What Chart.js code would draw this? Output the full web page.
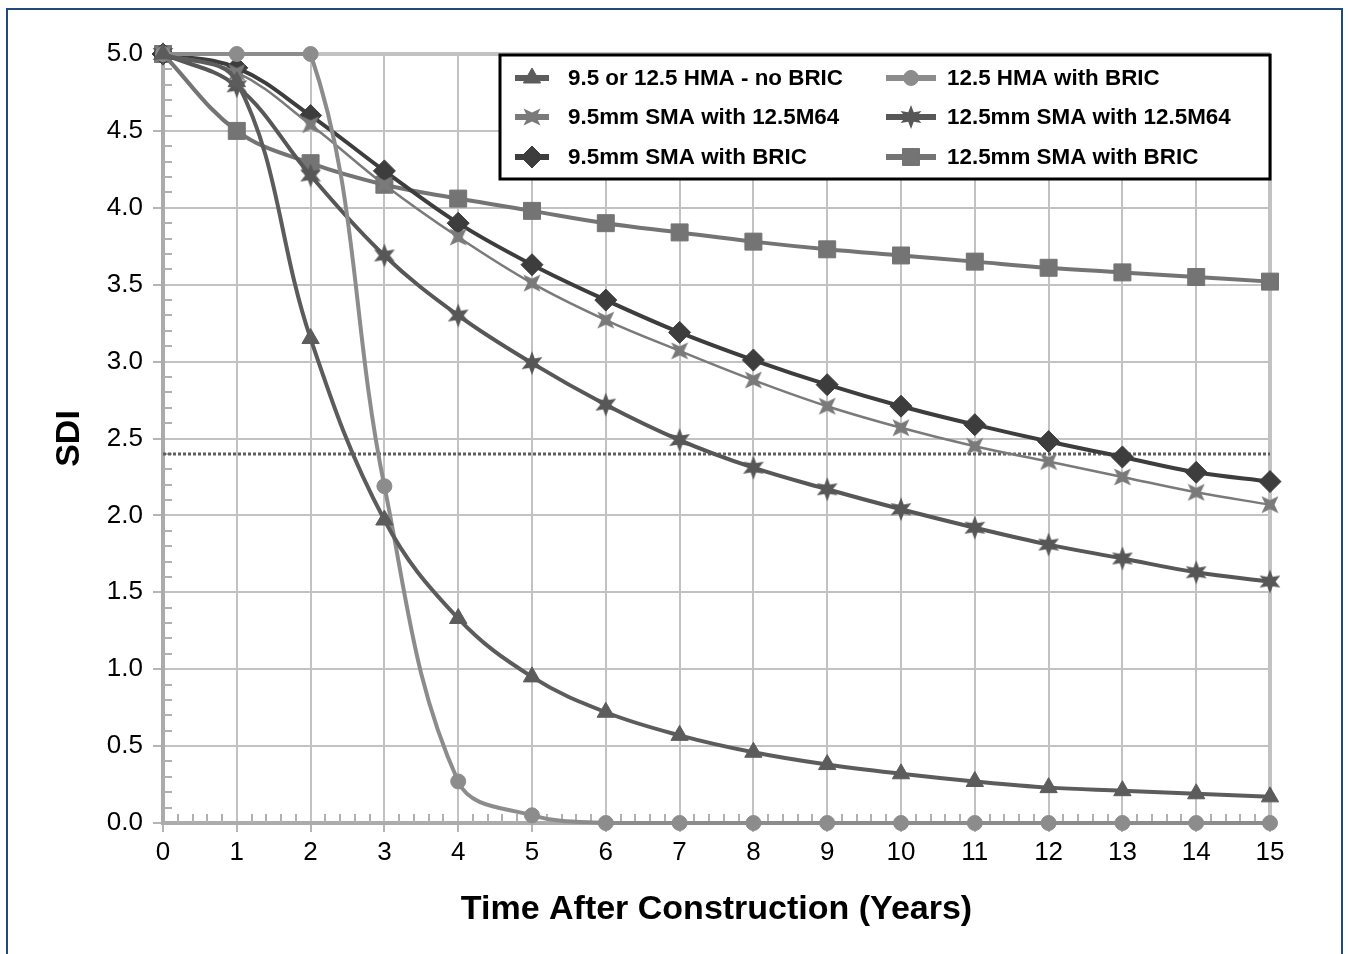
<!DOCTYPE html>
<html><head><meta charset="utf-8">
<script src="https://cdn.jsdelivr.net/npm/chart.js@4/dist/chart.umd.min.js"></script>
<style>
html,body{margin:0;padding:0;background:#fff;overflow:hidden;}
#wrap{position:relative;width:1349px;height:954px;}
#frame{position:absolute;left:6px;top:8px;width:1337px;height:970px;border:2px solid #1f4a7c;border-bottom:none;box-sizing:border-box;pointer-events:none;}
canvas{position:absolute;left:0;top:0;}
</style></head><body>
<div id="wrap"><canvas id="c" width="1349" height="954"></canvas><div id="frame"></div></div>
<script>
// ---- data ----
const years = [0,1,2,3,4,5,6,7,8,9,10,11,12,13,14,15];
const hmaNoBric   = [5.0,4.82,3.15,1.97,1.33,0.95,0.72,0.57,0.46,0.38,0.32,0.27,0.23,0.21,0.19,0.17];
const hmaBric     = [5.0,5.0,5.0,2.19,0.27,0.05,0,0,0,0,0,0,0,0,0,0];
const sma95M64    = [5.0,4.88,4.54,4.15,3.81,3.51,3.27,3.07,2.88,2.71,2.57,2.45,2.35,2.25,2.15,2.07];
const sma125M64   = [5.0,4.79,4.21,3.69,3.30,2.99,2.72,2.49,2.31,2.17,2.04,1.92,1.81,1.72,1.63,1.57];
const sma95Bric   = [5.0,4.91,4.60,4.24,3.90,3.63,3.40,3.19,3.01,2.85,2.71,2.59,2.48,2.38,2.28,2.22];
const sma125Bric  = [5.0,4.50,4.29,4.15,4.06,3.98,3.90,3.84,3.78,3.73,3.69,3.65,3.61,3.58,3.55,3.52];
const thresholdSDI = 2.4;
const seriesNames = ['9.5 or 12.5 HMA - no BRIC','12.5 HMA with BRIC','9.5mm SMA with 12.5M64','12.5mm SMA with 12.5M64','9.5mm SMA with BRIC','12.5mm SMA with BRIC'];
const xTitle = 'Time After Construction (Years)';
const yTitle = 'SDI';

// ---- styles ----
function makeStar(n, rOut, rIn, color, rot){
  const s = Math.ceil(rOut*2+2);
  const c = document.createElement('canvas'); c.width = c.height = s;
  const g = c.getContext('2d'); g.fillStyle = color; g.beginPath();
  for (let i=0;i<2*n;i++){ const r = i%2 ? rIn : rOut; const a = rot + i*Math.PI/n;
    g.lineTo(s/2 + r*Math.sin(a), s/2 - r*Math.cos(a)); }
  g.closePath(); g.fill(); return c;
}
const pts = v => years.map((x,i)=>({x, y:v[i]}));
const mk = (label, values, color, style, radius, width) => ({
  label, data: pts(values), borderColor: color, backgroundColor: color,
  pointBackgroundColor: color, pointBorderColor: color, pointBorderWidth: 1,
  pointStyle: style, pointRadius: radius, pointHoverRadius: radius,
  borderWidth: width, tension: 0.38, cubicInterpolationMode: 'default', fill: false, clip: false
});
const datasets = [
  mk(seriesNames[0], hmaNoBric, '#5c5c5c', 'triangle', 10, 4),
  mk(seriesNames[1], hmaBric, '#8c8c8c', 'circle', 7.5, 4),
  mk(seriesNames[2], sma95M64, '#7a7a7a', makeStar(4, 12, 4.5, '#7a7a7a', Math.PI/4), 11, 2.5),
  mk(seriesNames[3], sma125M64, '#575757', makeStar(6, 12, 5.5, '#575757', 0), 11, 4),
  mk(seriesNames[4], sma95Bric, '#3d3d3d', 'rectRot', 11, 4),
  mk(seriesNames[5], sma125Bric, '#747474', 'rect', 12, 4),
];
datasets.push({
  label: 'threshold', inLegend: false,
  data: [{x: years[0], y: thresholdSDI}, {x: years[years.length-1], y: thresholdSDI}],
  borderColor: '#5e5e5e', borderWidth: 3, borderDash: [3,2], pointRadius: 0, fill: false, order: 10
});

const tickFont = {family: "'Liberation Sans',Arial,sans-serif", size: 26};
const titleFont = {family: "'Liberation Sans',Arial,sans-serif", size: 34, weight: 'bold'};
const gridCol = '#c2c2c2';

const minorTicks = {
  id: 'minorTicks',
  beforeDatasetsDraw(chart){
    const {ctx, chartArea: a, scales: {x, y}} = chart;
    ctx.save(); ctx.strokeStyle = '#b0b0b0'; ctx.lineWidth = 2; ctx.beginPath();
    for (let k = 1; k < 50; k++){ if (k % 5 === 0) continue;
      const py = Math.round(y.getPixelForValue(k/10));
      ctx.moveTo(a.left, py); ctx.lineTo(a.left + 9, py); }
    for (let k = 1; k < 75; k++){ if (k % 5 === 0) continue;
      const px = Math.round(x.getPixelForValue(k/5));
      ctx.moveTo(px, a.bottom); ctx.lineTo(px, a.bottom - 9); }
    ctx.stroke(); ctx.restore();
  }
};

const boxLegend = {
  id: 'boxLegend',
  afterDatasetsDraw(chart){
    const ctx = chart.ctx;
    const ds = chart.data.datasets.filter(d => d.inLegend !== false);
    const box = {l: 500, t: 55, r: 1270, b: 179};
    ctx.save();
    ctx.fillStyle = '#fff'; ctx.fillRect(box.l, box.t, box.r-box.l, box.b-box.t);
    ctx.lineWidth = 3; ctx.strokeStyle = '#000'; ctx.strokeRect(box.l, box.t, box.r-box.l, box.b-box.t);
    const rows = [78, 117, 157];
    const cols = [{l: 515, r: 549, t: 568}, {l: 886, r: 936, t: 947}];
    ds.forEach((d, i) => {
      const c = cols[i % 2], yy = rows[Math.floor(i/2)];
      ctx.strokeStyle = d.borderColor; ctx.lineWidth = 6; ctx.setLineDash([]);
      ctx.beginPath(); ctx.moveTo(c.l, yy); ctx.lineTo(c.r, yy); ctx.stroke();
      ctx.fillStyle = d.borderColor; ctx.lineWidth = 1;
      Chart.helpers.drawPoint(ctx, {pointStyle: d.pointStyle, radius: d.pointRadius, borderWidth: 1, rotation: 0}, (c.l+c.r)/2, yy);
      ctx.fillStyle = '#000'; ctx.font = "bold 22.4px 'Liberation Sans',Arial,sans-serif";
      ctx.textBaseline = 'middle'; ctx.textAlign = 'left';
      ctx.fillText(d.label, c.t, yy + 1);
    });
    ctx.restore();
  }
};

new Chart(document.getElementById('c'), {
  type: 'line',
  data: {datasets},
  options: {
    responsive: false, animation: false, devicePixelRatio: 1,
    layout: {padding: {left: 0, top: 54, right: 79, bottom: 0}},
    plugins: {legend: {display: false}, tooltip: {enabled: false}},
    scales: {
      x: {
        type: 'linear', min: 0, max: 15,
        afterFit: s => { s.height = 131; },
        ticks: {stepSize: 1, color: '#000', font: tickFont, padding: 5, maxRotation: 0, autoSkip: false},
        grid: {color: gridCol, lineWidth: c => (c.tick && c.tick.value === 15) ? 4 : 2, tickLength: 9, tickColor: '#b5b5b5', tickWidth: 2},
        border: {display: true, color: '#ababab', width: 4},
        title: {display: true, text: xTitle, color: '#000', font: titleFont, padding: {top: 0, bottom: 24}}
      },
      y: {
        type: 'linear', min: 0, max: 5,
        afterFit: s => { s.width = 163; },
        ticks: {stepSize: 0.5, color: '#000', font: tickFont, padding: 10, callback: v => v.toFixed(1)},
        grid: {color: gridCol, lineWidth: c => (c.tick && c.tick.value === 5) ? 4 : 2, tickLength: 10, tickColor: '#b5b5b5', tickWidth: 2},
        border: {display: true, color: '#ababab', width: 4},
        title: {display: true, text: yTitle, color: '#000', font: titleFont, padding: {top: 49, bottom: 0}}
      }
    }
  },
  plugins: [minorTicks, boxLegend]
});
</script>
</body></html>
